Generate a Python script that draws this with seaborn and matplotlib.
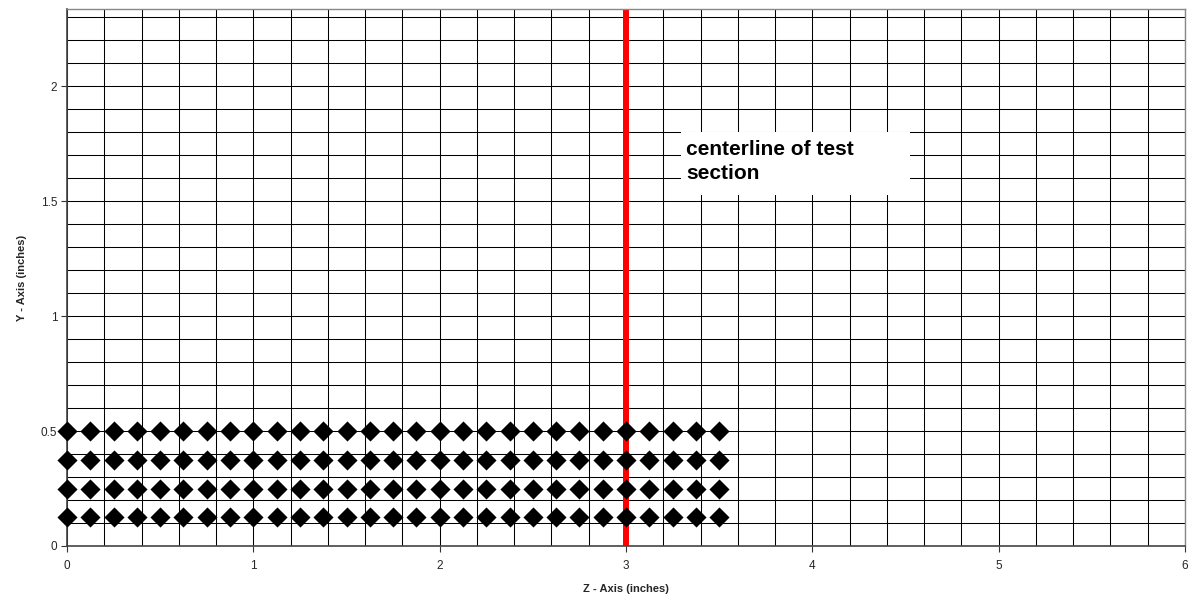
import numpy as np
import pandas as pd
import matplotlib
matplotlib.use("Agg")
import matplotlib.pyplot as plt
import seaborn as sns
from matplotlib.ticker import MultipleLocator
from matplotlib.patches import Rectangle

# Data: measurement grid points (Z, Y) in inches
z_positions = [0, 0.125, 0.25, 0.375, 0.5, 0.625, 0.75, 0.875, 1.0, 1.125, 1.25, 1.375,
               1.5, 1.625, 1.75, 1.875, 2.0, 2.125, 2.25, 2.375, 2.5, 2.625, 2.75, 2.875,
               3.0, 3.125, 3.25, 3.375, 3.5]
y_positions = [0.125, 0.25, 0.375, 0.5]
centerline_z = 3.0
annotation = "centerline of test\nsection"
x_ticks = [0, 1, 2, 3, 4, 5, 6]
y_ticks = [0, 0.5, 1, 1.5, 2]

df = pd.DataFrame([(z, y) for y in y_positions for z in z_positions], columns=["Z", "Y"])

sns.set_theme(style="white")
plt.rcParams['font.family'] = ['Liberation Sans', 'DejaVu Sans']

fig = plt.figure(figsize=(11.97, 5.99), dpi=100)
ax = fig.add_axes([67/1197, 1 - 546/599, (1185-67)/1197, (546-9)/599])

ax.set_xlim(0, 6)
ax.set_ylim(0, 2.335)
ax.xaxis.set_major_locator(MultipleLocator(1))
ax.xaxis.set_minor_locator(MultipleLocator(0.2))
ax.yaxis.set_major_locator(MultipleLocator(0.5))
ax.yaxis.set_minor_locator(MultipleLocator(0.1))
ax.grid(True, which="both", color="black", linewidth=0.75)
ax.set_axisbelow(True)

ax.axvline(centerline_z, color="#ff0000", linewidth=4.3, zorder=2)

sns.scatterplot(data=df, x="Z", y="Y", marker="D", s=105, color="black",
                linewidth=0, ax=ax, zorder=3, clip_on=False)

ax.set_xticks(x_ticks)
ax.set_yticks(y_ticks)
ax.set_xticklabels([str(v) for v in x_ticks])
ax.set_yticklabels(["0", "0.5", "1", "1.5", "2"])
ax.tick_params(axis="both", which="major", labelsize=8.5, length=4, width=0.8,
               color="#333333", direction="out", bottom=True, left=True)
ax.tick_params(axis="both", which="minor", length=0)
ax.tick_params(axis="x", pad=6)
ax.tick_params(axis="y", pad=3)

for side in ["left", "bottom"]:
    ax.spines[side].set_color("#444444")
    ax.spines[side].set_linewidth(1.2)
for side in ["top", "right"]:
    ax.spines[side].set_color("#888888")
    ax.spines[side].set_linewidth(1.0)

ax.set_xlabel("Z - Axis (inches)", fontsize=8, fontweight="bold", labelpad=9)
ax.set_ylabel("Y - Axis (inches)", fontsize=8, fontweight="bold", labelpad=10)

# white label box
ax.add_patch(Rectangle((3.295, 1.526), 4.524 - 3.295, 1.80 - 1.526,
                       facecolor="white", edgecolor="none", zorder=3.5))
ax.text(3.322, 1.765, annotation, fontsize=15, fontweight="bold", color="black",
        ha="left", va="top", linespacing=1.3, zorder=4)

fig.savefig("out.png", dpi=100)
